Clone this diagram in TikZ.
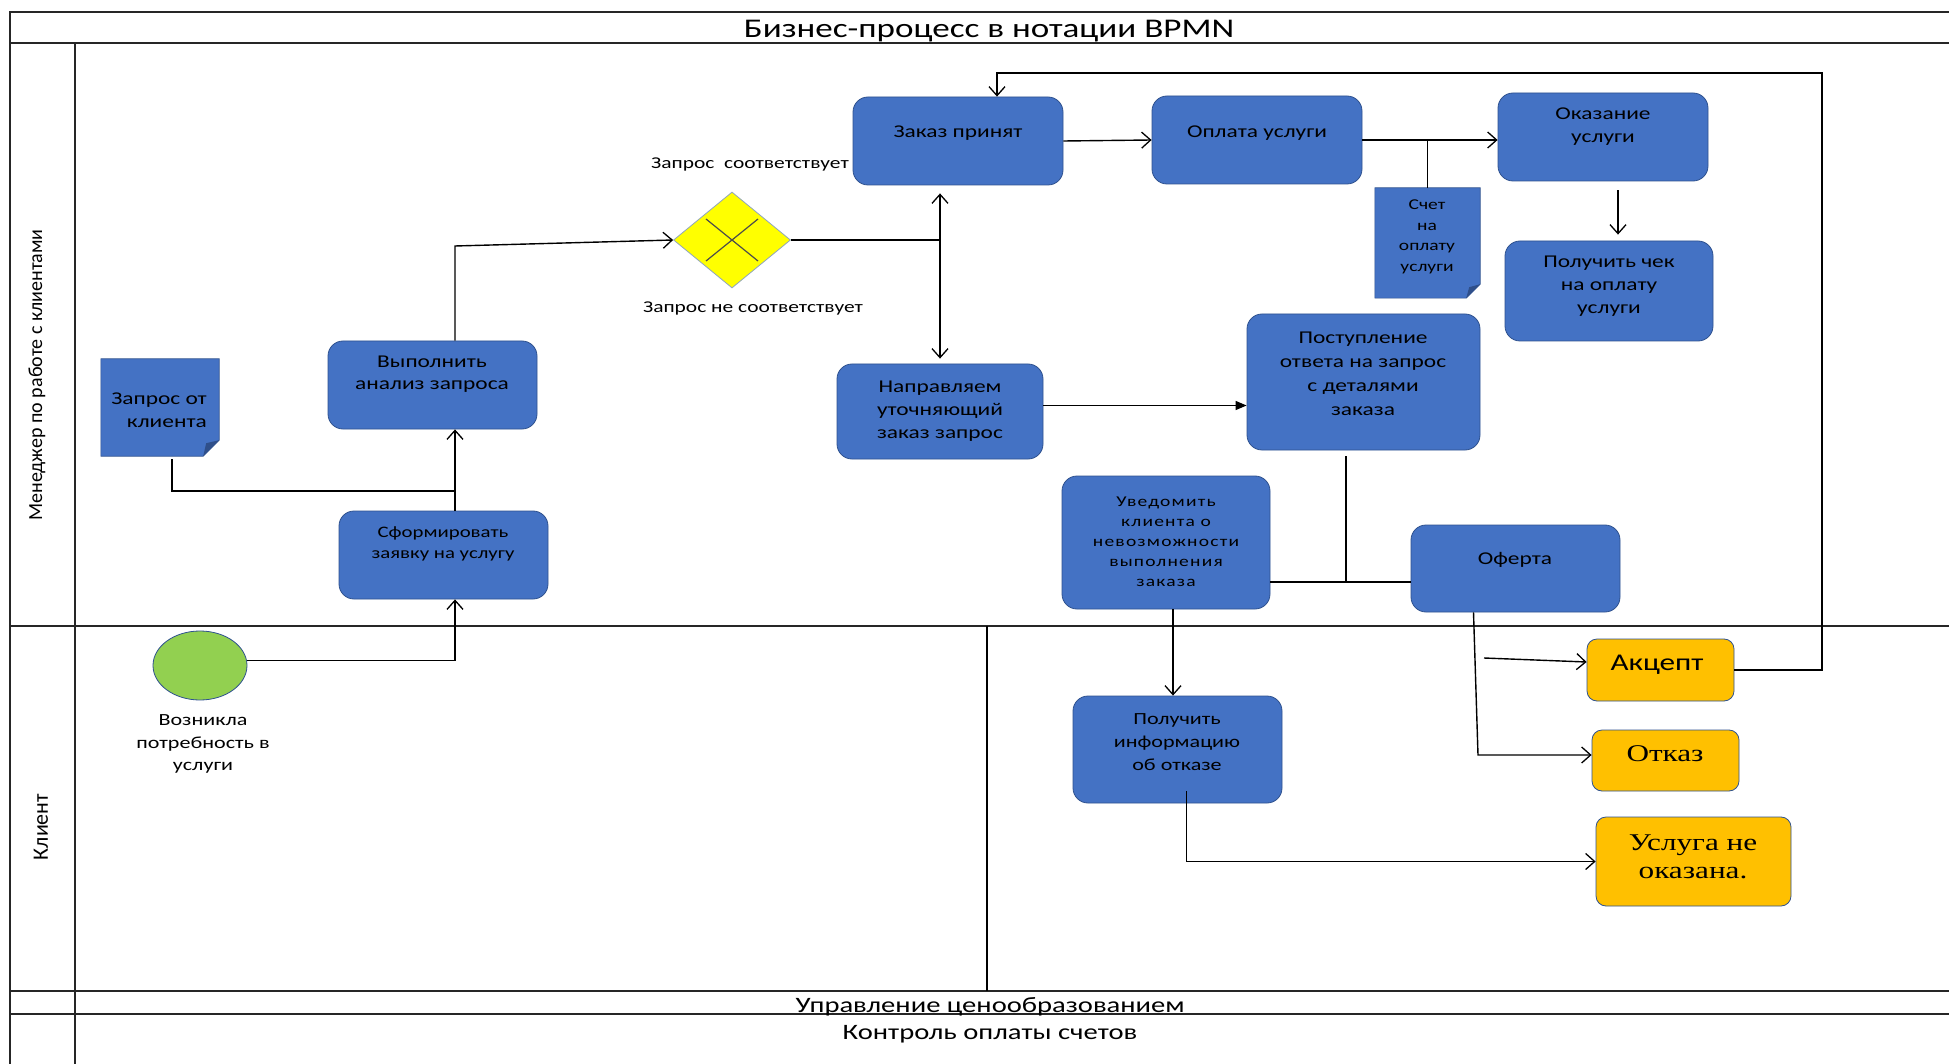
\documentclass[tikz,border=0pt]{standalone}
\usepackage{fontspec}
\setmainfont{Carlito}[FakeStretch=1.3]
\newfontfamily\plainfont{Carlito}
\newfontfamily\serifst{Liberation Serif}[FakeStretch=1.3]
\newfontfamily\spacedfont{Carlito}[FakeStretch=1.3,LetterSpace=8]
\usetikzlibrary{arrows.meta,shapes.geometric,calc}
\definecolor{taskblue}{HTML}{4472C4}
\definecolor{bordblue}{HTML}{2F528F}
\definecolor{orng}{HTML}{FFC000}
\definecolor{grn}{HTML}{92D050}
\definecolor{gwy}{HTML}{FFFF00}
\definecolor{gwb}{HTML}{8EA4BF}
\definecolor{folddark}{HTML}{2F4F8A}
\newcommand\fsz[2]{\fontsize{#1}{#2}\selectfont}
\begin{document}
\begin{tikzpicture}[x=1pt,y=-1pt,
  task/.style={draw=bordblue, fill=taskblue, rounded corners=15pt, line width=0.8pt, inner sep=0pt},
  gold/.style={draw=bordblue, fill=orng, rounded corners=10pt, line width=0.8pt, inner sep=0pt},
  docbox/.style={inner sep=0pt},
  docst/.style={fill=taskblue, draw=bordblue, line width=0.6pt},
  tx/.style={align=center, inner sep=0pt, font=\fsz{18}{23}},
  lbl/.style={align=center, inner sep=0pt, font=\fsz{16.5}{20}},
  frame/.style={line width=2pt, draw=black!85},
  conn/.style={line width=1.4pt, draw=black},
  arr/.style={conn, -{Straight Barb[length=9pt,width=16pt,line width=1.3pt]}},
  farr/.style={conn, -{Triangle[length=11pt,width=9pt]}}
]
\path[use as bounding box, fill=white] (0,0) rectangle (1949,1064);

% pool frame
\draw[frame] (1949,12) -- (10,12) -- (10,1064);
\draw[frame] (10,43) -- (1949,43);
\draw[frame] (75,43) -- (75,1064);
\draw[frame] (10,626) -- (1949,626);
\draw[frame] (10,991) -- (1949,991);
\draw[frame] (10,1014) -- (1949,1014);
\draw[conn] (987,626) -- (987,991);

\node[font=\fsz{27}{32}] (title) at (989,31) {Бизнес-процесс в нотации BPMN};
\node[rotate=90, font=\plainfont\fsz{20}{24}] (lane1) at (37,375) {Менеджер по работе с клиентами};
\node[rotate=90, font=\plainfont\fsz{22}{26}] (lane2) at (41,827) {Клиент};
\node[font=\fsz{22}{26}, inner sep=0pt] (pool3) at (990,1007) {Управление ценообразованием};
\node[font=\fsz{22}{26}, inner sep=0pt] (pool4) at (990,1034) {Контроль оплаты счетов};

% document: Запрос от клиента
\node[docbox, minimum width=118pt, minimum height=97pt] (req) at (160,407.5) {};
\path[docst] (req.north west) -- (req.north east) -- ($(req.south east)+(0,-16)$) -- ($(req.south east)+(-16,0)$) -- (req.south west) -- cycle;
\fill[folddark] ($(req.south east)+(0,-16)$) -- ($(req.south east)+(-16,0)$) -- ($(req.south east)+(-13,-13)$) -- cycle;
\node[tx, align=right, anchor=east] (reqt) at (207,410) {Запрос от\\клиента};

% document: Счет на оплату услуги
\node[docbox, minimum width=105pt, minimum height=110pt] (schet) at (1427.5,243) {};
\path[docst] (schet.north west) -- (schet.north east) -- ($(schet.south east)+(0,-14)$) -- ($(schet.south east)+(-14,0)$) -- (schet.south west) -- cycle;
\fill[folddark] ($(schet.south east)+(0,-14)$) -- ($(schet.south east)+(-14,0)$) -- ($(schet.south east)+(-11,-11)$) -- cycle;
\node[tx, font=\fsz{15}{20.5}] (schett) at (1427,237) {Счет\\на\\оплату\\услуги};

% tasks
\node[task, minimum width=209pt, minimum height=88pt] (anal) at (432.5,385) {};
\node[tx, font=\fsz{18}{22}] (analt) at (432,374) {Выполнить\\анализ запроса};

\node[task, minimum width=209pt, minimum height=88pt] (form) at (443.5,555) {};
\node[tx, font=\fsz{16}{21}] (formt) at (443,544) {Сформировать\\заявку на услугу};

\node[ellipse, draw=bordblue, fill=grn, line width=0.8pt, minimum width=94pt, minimum height=69pt, inner sep=0pt] (start) at (200,665.5) {};
\node[lbl, font=\fsz{17}{22.5}] (startt) at (203,744) {Возникла\\потребность в\\услуги};

\node[diamond, draw=gwb, fill=gwy, line width=0.8pt, minimum width=117pt, minimum height=96pt, inner sep=0pt] (gw) at (732,240) {};
\draw[line width=1.2pt, draw=black!70] ($(gw.center)+(-26,-21)$) -- ($(gw.center)+(26,21)$)
  ($(gw.center)+(26,-21)$) -- ($(gw.center)+(-26,21)$);
\node[lbl] (gwyes) at (750,164) {Запрос\ \ соответствует};
\node[lbl] (gwno) at (753,308) {Запрос не соответствует};

\node[task, minimum width=210pt, minimum height=88pt] (zak) at (958,141) {};
\node[tx] (zakt) at (958,133) {Заказ принят};

\node[task, minimum width=210pt, minimum height=88pt] (opl) at (1257,140) {};
\node[tx] (oplt) at (1257,133) {Оплата услуги};

\node[task, minimum width=210pt, minimum height=88pt] (okaz) at (1603,137) {};
\node[tx] (okazt) at (1603,126.5) {Оказание\\услуги};

\node[task, minimum width=208pt, minimum height=100pt] (chek) at (1609,291) {};
\node[tx] (chekt) at (1609,286) {Получить чек\\на оплату\\услуги};

\node[task, minimum width=206pt, minimum height=95pt] (naprav) at (940,411.5) {};
\node[tx] (napravt) at (940,411) {Направляем\\уточняющий\\заказ запрос};

\node[task, minimum width=233pt, minimum height=136pt] (postup) at (1363.5,382) {};
\node[tx, font=\fsz{18}{24}] (postupt) at (1363,374) {Поступление\\ответа на запрос\\с деталями\\заказа};

\node[task, minimum width=208pt, minimum height=133pt] (uved) at (1166,542.5) {};
\node[tx, font=\spacedfont\fsz{15}{20}] (uvedt) at (1166,542) {Уведомить\\клиента о\\невозможности\\выполнения\\заказа};

\node[task, minimum width=209pt, minimum height=87pt] (ofer) at (1515.5,568.5) {};
\node[tx] (ofert) at (1515,560) {Оферта};

\node[task, minimum width=209pt, minimum height=107pt] (poluch) at (1177.5,749.5) {};
\node[tx, font=\fsz{17}{23}] (polucht) at (1177,742) {Получить\\информацию\\об отказе};

\node[gold, minimum width=147pt, minimum height=62pt] (akcept) at (1660.5,670) {};
\node[tx, font=\fsz{24}{28}] (akceptt) at (1657,665) {Акцепт};

\node[gold, minimum width=147pt, minimum height=61pt] (otkaz) at (1665.5,760.5) {};
\node[tx, font=\serifst\fsz{24}{28}] (otkazt) at (1665,754) {Отказ};

\node[gold, minimum width=195pt, minimum height=89pt] (usl) at (1693.5,861.5) {};
\node[tx, font=\serifst\fsz{24}{28}] (uslt) at (1693,857) {Услуга не\\оказана.};

% connectors
\coordinate (j1) at (455,491);
\draw[conn] ([xshift=12pt,yshift=-3pt]req.south) |- (j1);
\draw[arr] (form.north -| j1) -- (anal.south -| j1);
\draw[arr] ([yshift=5pt]start.east) -| (form.south -| j1);
\coordinate (j2) at (455,246);
\draw[arr] (anal.north -| j1) -- (j2) -- (gw.west);

\coordinate (j3) at (940,240);
\draw[conn] (gw.east) -- (j3);
\draw[arr, shorten >=8pt] (j3) -- (zak.south -| j3);
\draw[arr, shorten >=5pt] (j3) -- (naprav.north -| j3);

\draw[arr] (zak.east) -- (opl.west);
\draw[arr] (opl.east) -- (opl.east -| okaz.west);
\draw[conn] (opl.east -| schet.north) -- (schet.north);
\coordinate (xk) at (1618,0);
\draw[arr, shorten <=9pt, shorten >=6pt] (okaz.south -| xk) -- (chek.north -| xk);

\draw[farr] ([yshift=6pt]naprav.east) -- ([yshift=6pt]naprav.east -| postup.west);

\coordinate (j4) at (1346,582);
\draw[conn, shorten <=6pt] (postup.south -| j4) -- (j4);
\draw[conn] (uved.east |- j4) -- (ofer.west |- j4);

\coordinate (xu) at (1173,0);
\draw[arr] (uved.south -| xu) -- (poluch.north -| xu);

\coordinate (j6) at (1478,755);
\draw[arr] ($(ofer.south)+(-42,0)$) -- (j6) -- (j6 -| otkaz.west);
\coordinate (j7) at (1484,658);
\draw[arr] (j7) -- ($(akcept.west)+(0,-8)$);

\coordinate (j8) at (1822,73);
\coordinate (j9) at (997,73);
\draw[arr] (akcept.east) -| (j8) -- (j9) -- (zak.north -| j9);

\draw[arr] ($(poluch.south)+(9,-12)$) |- (usl.west);
\end{tikzpicture}
\end{document}
